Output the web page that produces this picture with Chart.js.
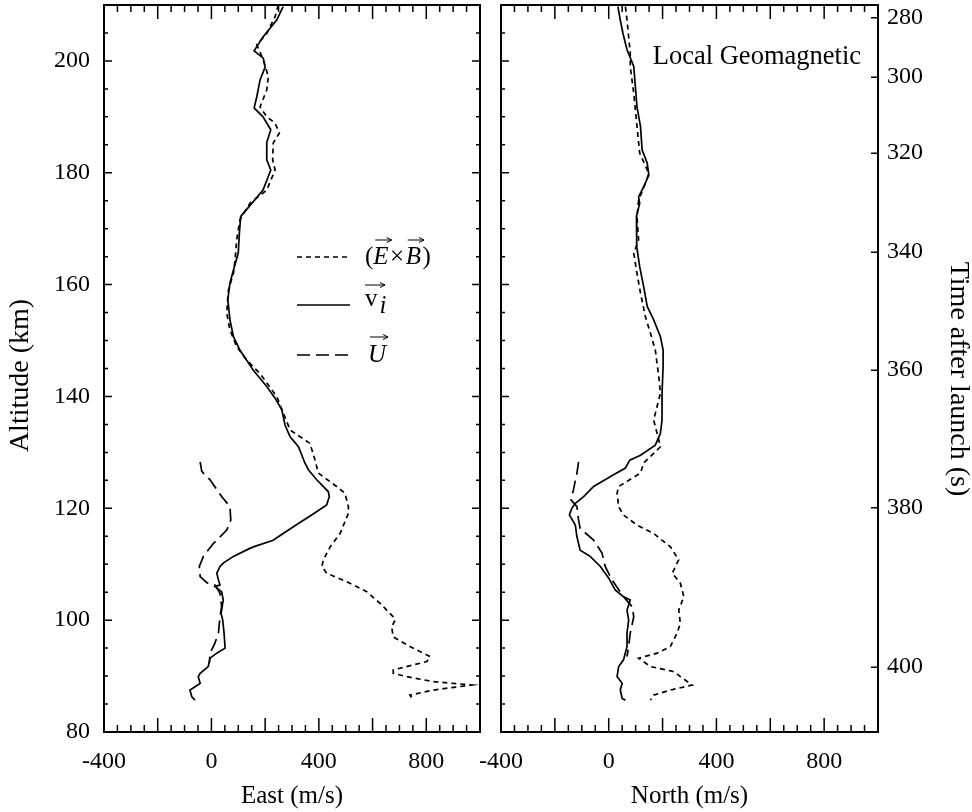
<!DOCTYPE html>
<html><head><meta charset="utf-8">
<script src="https://cdn.jsdelivr.net/npm/chart.js@4.4.1/dist/chart.umd.min.js"></script>
<style>
html,body{margin:0;padding:0;background:#fff;}
#wrap{position:relative;width:972px;height:812px;background:#fff;}
#c1{position:absolute;left:0;top:0;}
#c2{position:absolute;left:480px;top:0;}
</style></head>
<body><div id="wrap"><canvas id="c1" width="490" height="812"></canvas><canvas id="c2" width="492" height="812"></canvas></div>
<script>
// ---------- axis settings / tick labels ----------
const altMin = 80, altMax = 210;
const velMin = -400, velMax = 1000;
const velTickLabels = [-400, 0, 400, 800];
const altTickLabels = [80, 100, 120, 140, 160, 180, 200];
const timeTickLabels = [280, 300, 320, 340, 360, 380, 400];
const timeTickAlt = [207.7, 197.1, 183.5, 165.8, 144.7, 120.1, 91.6];

// ---------- East component ----------
const eastViAlt = [209.7,207.3,204.3,201.8,200.5,198.9,196.6,193.6,191.6,190.0,187.7,185.4,182.3,180.5,176.9,174.8,172.2,169.2,165.7,162.6,160.3,157.3,153.7,150.7,148.3,144.7,141.8,139.7,137.6,134.9,132.8,131.0,128.1,126.9,125.1,123.0,122.1,120.6,118.8,116.7,114.9,114.3,113.1,112.7,111.4,110.2,109.6,108.4,107.2,106.3,106.0,105.1,103.6,101.2,100.0,97.7,95.0,94.1,93.2,91.7,90.5,89.9,88.7,88.1,87.5,86.3,85.7];
const eastViVel = [267,243,192,159,193,200,181,169,159,192,221,206,206,221,192,155,109,104,100,82,69,61,69,82,106,156,206,237,262,274,293,324,348,361,392,435,439,429,373,305,249,230,156,137,82,44,32,20,26,32,13,38,44,36,42,47,51,20,-5,-12,-42,-49,-42,-61,-80,-73,-61];

const eastExbAlt = [210,207.9,204.9,202.9,200.2,197.2,194.8,191.8,190.0,188.9,187.1,185.3,182.3,180.5,176.9,174.6,171.6,168.0,164.4,162.0,159.0,154.9,151.9,148.9,146.5,144.1,140.0,134.0,131.6,128.6,126.3,123.9,122.7,120.3,119.1,115.5,113.1,110.8,109.6,108.4,106.6,105.1,103.0,100.6,100.0,98.8,97.0,95.3,93.5,92.6,91.1,90.5,89.9,89.0,88.4,87.5,86.6,85.7];
const eastExbVel = [249,237,206,169,193,212,206,181,206,237,253,230,228,237,206,144,106,94,88,82,63,57,69,94,131,181,243,293,367,386,398,466,497,510,510,479,442,417,411,429,516,578,628,677,684,671,677,739,814,802,677,677,727,826,969,826,739,752];

const eastUAlt = [128.3,126.6,125.1,122.1,120.3,117.9,116.1,113.7,111.4,109.6,107.8,106.7,106.3,104.8,102.4,100.6,97.7,95.9,94.1,92.3];
const eastUVel = [-42,-36,-5,38,69,72,57,7,-30,-45,-42,-17,13,32,38,32,26,13,-5,-8];

// ---------- North component ----------
const northViAlt = [209.7,207.3,204.9,202.0,199.0,195.4,191.8,188.3,184.1,181.7,179.6,177.5,175.7,174.5,172.2,169.2,166.8,163.2,159.6,156.1,153.7,150.7,148.3,145.3,140.6,139.4,135.8,133.4,131.3,129.5,128.6,127.2,126.0,123.9,122.1,120.9,120.0,118.8,117.0,114.9,112.5,111.4,109.6,107.5,105.4,104.2,103.6,101.8,100.0,97.7,95.3,92.9,91.7,89.9,88.7,87.5,86.0,85.7];
const northViVel = [34,43,53,68,93,99,105,118,124,143,149,130,111,115,103,105,103,115,130,143,167,192,202,202,198,198,198,192,173,118,78,62,18,-56,-93,-124,-137,-146,-124,-118,-106,-69,-31,0,24,55,80,68,74,68,68,55,37,31,50,43,50,62];

const northExbAlt = [209.7,207.3,201.4,199.0,194.2,188.3,183.5,179.9,178.1,175.1,172.2,168.0,165.6,162.0,158.5,154.3,151.3,148.3,143.5,140.6,135.8,132.2,131.0,128.1,126.3,123.9,122.7,120.3,118.8,117.0,115.5,113.1,110.8,108.4,106.6,104.2,101.8,99.4,97.7,95.3,94.1,93.2,91.7,90.8,89.9,88.4,87.5,86.6,85.7];
const northExbVel = [62,68,80,80,93,105,115,149,136,111,105,111,93,105,118,136,155,173,186,192,167,186,192,130,118,37,31,37,55,105,167,229,260,236,266,279,260,266,254,229,180,111,155,242,266,310,229,167,155];

const northUAlt = [128.3,126.3,123.3,121.5,120.3,117.9,116.4,114.3,112.0,109.6,107.2,104.2,102.4,100.6,97.7,95.3,93.5];
const northUVel = [-112,-118,-131,-140,-118,-112,-106,-56,-25,-13,12,55,87,93,80,74,68];

// ---------- styling ----------
const FAMILY = "'Liberation Serif','Times New Roman',Times,serif";
Chart.defaults.font.family = FAMILY;
Chart.defaults.color = '#000';
const tickFont = {family: FAMILY, size: 24};
const xTitleFont = {family: FAMILY, size: 25};
const yTitleFont = {family: FAMILY, size: 28, lineHeight: 1.0};
const DASH_EXB = [5, 4];
const DASH_U = [13, 6];

function pts(alt, vel) { return alt.map((a, i) => ({x: vel[i], y: a})); }
function series(label, alt, vel, dash) {
  return {label, data: pts(alt, vel), showLine: true, borderColor: '#000', backgroundColor: '#000',
    borderWidth: 1.7, borderDash: dash, pointRadius: 0, pointHoverRadius: 0, fill: false, tension: 0,
    xAxisID: 'x', yAxisID: 'y'};
}

// inward tick marks + frame
const axisDecor = {
  id: 'axisDecor',
  afterDraw(chart, args, opts) {
    const ctx = chart.ctx, a = chart.chartArea, xs = chart.scales.x, ys = chart.scales.y;
    ctx.save();
    ctx.strokeStyle = '#000'; ctx.setLineDash([]); ctx.lineWidth = 1.5;
    ctx.beginPath();
    for (let v = velMin; v <= velMax; v += 50) {
      const px = xs.getPixelForValue(v);
      const len = (v % 200 === 0) ? 14 : 7;
      ctx.moveTo(px, a.bottom); ctx.lineTo(px, a.bottom - len);
      ctx.moveTo(px, a.top); ctx.lineTo(px, a.top + len);
    }
    for (let h = altMin; h <= altMax; h += 5) {
      const py = ys.getPixelForValue(h);
      const len = (h % 20 === 0) ? 8 : 4;
      ctx.moveTo(a.left, py); ctx.lineTo(a.left + len, py);
      if (opts.rightAlt) { ctx.moveTo(a.right, py); ctx.lineTo(a.right - len, py); }
    }
    if (opts.rightTime) {
      timeTickAlt.forEach(h => {
        const py = ys.getPixelForValue(h);
        ctx.moveTo(a.right, py); ctx.lineTo(a.right - 7, py);
      });
    }
    ctx.stroke();
    ctx.lineWidth = 2;
    ctx.strokeRect(a.left, a.top, a.right - a.left, a.bottom - a.top);
    ctx.restore();
  }
};

function arrowOver(ctx, x0, x1, y) {
  ctx.beginPath(); ctx.moveTo(x0, y); ctx.lineTo(x1, y);
  ctx.moveTo(x1 - 5, y - 2.5); ctx.lineTo(x1, y); ctx.lineTo(x1 - 5, y + 2.5);
  ctx.stroke();
}

const legendDraw = {
  id: 'legendDraw',
  afterDatasetsDraw(chart) {
    const ctx = chart.ctx, ds = chart.data.datasets;
    ctx.save();
    ctx.strokeStyle = '#000'; ctx.fillStyle = '#000';
    const rows = [257, 305, 355];
    [0, 1, 2].forEach((i, k) => {
      ctx.setLineDash(ds[i].borderDash || []); ctx.lineWidth = 1.7;
      ctx.beginPath(); ctx.moveTo(297, rows[k]); ctx.lineTo(350, rows[k]); ctx.stroke();
    });
    ctx.setLineDash([]); ctx.lineWidth = 1;
    ctx.textBaseline = 'alphabetic'; ctx.textAlign = 'left';
    const N = '25px ' + FAMILY, I = 'italic 25px ' + FAMILY;
    // (E x B)
    let x = 365, y = 264;
    ctx.font = N; ctx.fillText('(', x, y); x += ctx.measureText('(').width;
    ctx.font = I; ctx.fillText('E', x, y); let w = ctx.measureText('E').width;
    arrowOver(ctx, x + 2, x + w + 3, 240); x += w + 1.5;
    ctx.font = N; ctx.fillText('\u00D7', x, y); x += ctx.measureText('\u00D7').width + 1.5;
    ctx.font = I; ctx.fillText('B', x, y); w = ctx.measureText('B').width;
    arrowOver(ctx, x + 2, x + w + 3, 240); x += w + 1.5;
    ctx.font = N; ctx.fillText(')', x, y);
    // v_i
    x = 365; y = 306;
    ctx.font = N; ctx.fillText('v', x, y); w = ctx.measureText('v').width;
    ctx.font = I; ctx.fillText('i', x + w + 2, y + 7);
    arrowOver(ctx, x, x + 20, 285);
    // U
    x = 368; y = 362;
    ctx.font = I; ctx.fillText('U', x, y); w = ctx.measureText('U').width;
    arrowOver(ctx, x + 2, x + w + 2, 337);
    ctx.restore();
  }
};

const geoLabel = {
  id: 'geoLabel',
  afterDatasetsDraw(chart) {
    const ctx = chart.ctx;
    ctx.save(); ctx.fillStyle = '#000';
    ctx.font = '26.5px ' + FAMILY; ctx.textAlign = 'right'; ctx.textBaseline = 'alphabetic';
    ctx.fillText('Local Geomagnetic', 861 - 480, 64);
    ctx.restore();
  }
};

function noPadX(s, h) { s.height = h; s.paddingLeft = 0; s.paddingRight = 0; }
function noPadY(s, w) { s.width = w; s.paddingTop = 0; s.paddingBottom = 0; }

function xScale(title) {
  return {
    type: 'linear', position: 'bottom', min: velMin, max: velMax,
    afterBuildTicks: s => { s.ticks = velTickLabels.map(v => ({value: v})); },
    ticks: {autoSkip: false, maxRotation: 0, font: tickFont, color: '#000', padding: 15},
    grid: {display: false, drawTicks: false}, border: {display: false},
    title: {display: true, text: title, font: xTitleFont, color: '#000', padding: {top: 0, bottom: 1}},
    afterFit: s => noPadX(s, 80)
  };
}

new Chart(document.getElementById('c1'), {
  type: 'scatter',
  data: {datasets: [
    series('(E\u00D7B)', eastExbAlt, eastExbVel, DASH_EXB),
    series('v_i', eastViAlt, eastViVel, []),
    series('U', eastUAlt, eastUVel, DASH_U)
  ]},
  options: {
    responsive: false, animation: false, devicePixelRatio: 1,
    layout: {padding: {top: 5, right: 10, left: 0, bottom: 0}},
    plugins: {legend: {display: false}, tooltip: {enabled: false}, axisDecor: {rightAlt: true}},
    scales: {
      x: xScale('East (m/s)'),
      y: {
        type: 'linear', position: 'left', min: altMin, max: altMax,
        afterBuildTicks: s => { s.ticks = altTickLabels.map(v => ({value: v})); },
        ticks: {autoSkip: false, font: tickFont, color: '#000', padding: 14},
        grid: {display: false, drawTicks: false}, border: {display: false},
        title: {display: true, text: 'Altitude (km)  ', font: yTitleFont, color: '#000', padding: {top: 7, bottom: 0}},
        afterFit: s => noPadY(s, 104)
      }
    }
  },
  plugins: [axisDecor, legendDraw]
});

new Chart(document.getElementById('c2'), {
  type: 'scatter',
  data: {datasets: [
    series('(E\u00D7B)', northExbAlt, northExbVel, DASH_EXB),
    series('v_i', northViAlt, northViVel, []),
    series('U', northUAlt, northUVel, DASH_U)
  ]},
  options: {
    responsive: false, animation: false, devicePixelRatio: 1,
    layout: {padding: {top: 5, right: 0, left: 0, bottom: 0}},
    plugins: {legend: {display: false}, tooltip: {enabled: false}, axisDecor: {rightTime: true}},
    scales: {
      x: xScale('North (m/s)'),
      y: {
        type: 'linear', position: 'left', min: altMin, max: altMax,
        ticks: {display: false},
        grid: {display: false, drawTicks: false}, border: {display: false},
        afterFit: s => noPadY(s, 21)
      },
      yt: {
        type: 'linear', position: 'right', min: altMin, max: altMax,
        afterBuildTicks: s => { s.ticks = timeTickAlt.map(v => ({value: v})); },
        ticks: {autoSkip: false, font: tickFont, color: '#000', padding: 9,
          callback: (v, i) => String(timeTickLabels[i])},
        grid: {display: false, drawTicks: false}, border: {display: false},
        title: {display: true, text: '   Time after launch (s)', font: yTitleFont, color: '#000', padding: {top: 0, bottom: 0}},
        afterFit: s => noPadY(s, 94)
      }
    }
  },
  plugins: [axisDecor, geoLabel]
});
</script>
</body></html>
